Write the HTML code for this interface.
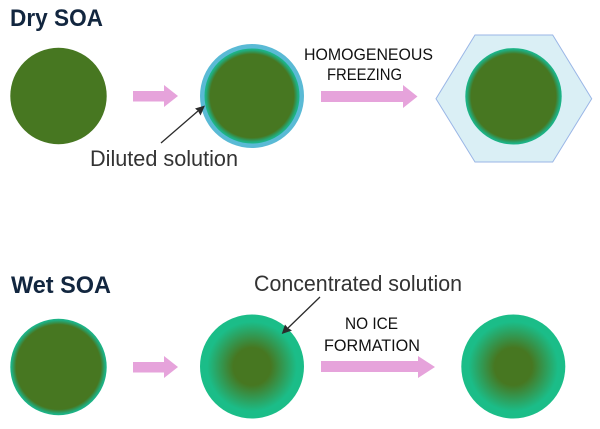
<!DOCTYPE html>
<html><head><meta charset="utf-8"><style>html,body{margin:0;padding:0;background:#fff}svg{display:block}text{font-family:"Liberation Sans",sans-serif}</style></head><body>
<svg width="600" height="429" viewBox="0 0 600 429" xmlns="http://www.w3.org/2000/svg">
<defs>
<radialGradient id="thin"><stop offset="0" stop-color="#477721"/><stop offset="0.88" stop-color="#477721"/><stop offset="0.97" stop-color="#1fae80"/><stop offset="1" stop-color="#1bb688"/></radialGradient>
<radialGradient id="thick"><stop offset="0" stop-color="#477721"/><stop offset="0.36" stop-color="#477721"/><stop offset="0.86" stop-color="#1bbd88"/><stop offset="1" stop-color="#1bbd88"/></radialGradient>
</defs>
<rect width="600" height="429" fill="#fff"/>
<text x="10" y="26" font-size="24" font-weight="bold" fill="#12263f" textLength="93" lengthAdjust="spacingAndGlyphs">Dry SOA</text>
<text x="11" y="293" font-size="24" font-weight="bold" fill="#12263f" textLength="100" lengthAdjust="spacingAndGlyphs">Wet SOA</text>
<circle cx="58.5" cy="96" r="48.2" fill="#477721"/>
<path d="M133 91H164V85L178 96L164 107V101.5H133Z" fill="#e6a3db"/>
<circle cx="252" cy="96" r="52" fill="#5abad5"/>
<circle cx="252" cy="96" r="47.5" fill="url(#thin)"/>
<path d="M321 91H403V85L417.5 96.5L403 108V102H321Z" fill="#e6a3db"/>
<polygon points="475,35 552.7,35 591.7,98.7 552.7,162 475,162 436,98.7" fill="#daeff5" stroke="#9ab6e6" stroke-width="1"/>
<circle cx="513.5" cy="96.3" r="48.2" fill="url(#thin)"/>
<line x1="161" y1="143" x2="198" y2="111" stroke="#2b2b2b" stroke-width="1.3"/>
<polygon points="205,105.5 200.5,115.5 198,111 195,108.5" fill="#2b2b2b"/>
<text x="90" y="166" font-size="22.5" fill="#333" textLength="148" lengthAdjust="spacingAndGlyphs">Diluted solution</text>
<text x="304" y="60" font-size="16.5" fill="#111" textLength="129" lengthAdjust="spacingAndGlyphs">HOMOGENEOUS</text>
<text x="327" y="80" font-size="16.5" fill="#111" textLength="75" lengthAdjust="spacingAndGlyphs">FREEZING</text>
<circle cx="58.5" cy="367" r="48.2" fill="url(#thin)"/>
<path d="M133 362H164V356L178 367L164 378V372.5H133Z" fill="#e6a3db"/>
<circle cx="252" cy="366.5" r="52" fill="url(#thick)"/>
<path d="M321 361H418V356L435 367L418 378V372H321Z" fill="#e6a3db"/>
<circle cx="513.3" cy="366.5" r="52" fill="url(#thick)"/>
<line x1="320" y1="297" x2="288" y2="328" stroke="#2b2b2b" stroke-width="1.3"/>
<polygon points="281.7,334 285,324.5 288,328 292,330.5" fill="#2b2b2b"/>
<text x="254" y="291" font-size="22.5" fill="#333" textLength="208" lengthAdjust="spacingAndGlyphs">Concentrated solution</text>
<text x="345" y="329" font-size="16.5" fill="#111" textLength="53" lengthAdjust="spacingAndGlyphs">NO ICE</text>
<text x="324" y="351" font-size="16.5" fill="#111" textLength="96" lengthAdjust="spacingAndGlyphs">FORMATION</text>
</svg>
</body></html>
